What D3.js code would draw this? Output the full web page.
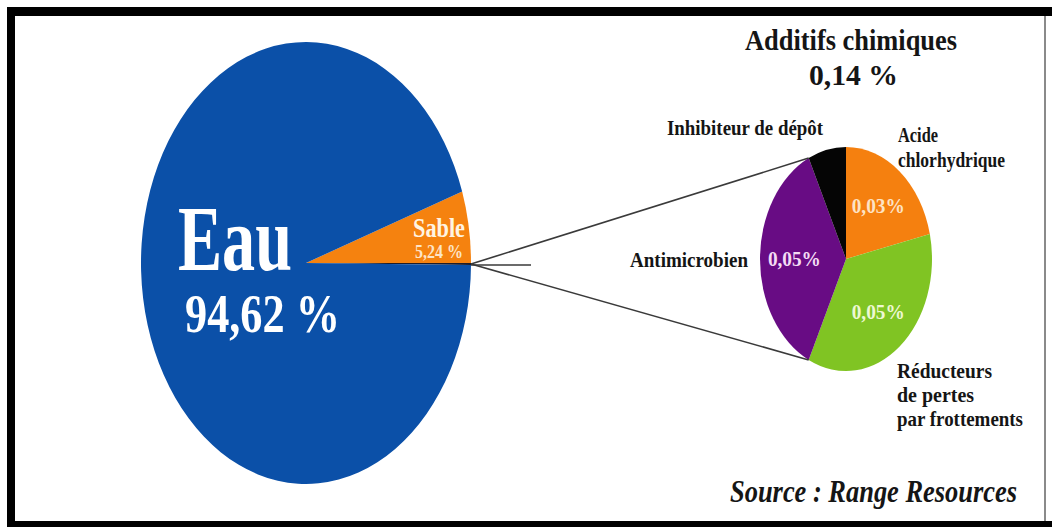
<!DOCTYPE html>
<html>
<head>
<meta charset="utf-8">
<script src="https://cdn.jsdelivr.net/npm/d3@7"></script>
<style>
  html, body { margin: 0; padding: 0; background: #fff; }
  svg { display: block; }
  text { font-family: "Liberation Serif", "Times New Roman", serif; font-weight: bold; }
</style>
</head>
<body>
<svg id="chart" width="1052" height="527"></svg>
<script>
// Composition of a fracturing fluid (% of volume)
const mainLabels = ["Sable", "Additifs chimiques", "Eau"];
const mainValues = [5.24, 0.14, 94.62];
const mainColors = ["#f5820f", "#1c1c2a", "#0b50a8"];

// Breakdown of the chemical additives, clockwise from 12 o'clock
const addLabels = ["Acide chlorhydrique", "Réducteurs de pertes par frottements", "Antimicrobien", "Inhibiteur de dépôt"];
const addValues = [0.03, 0.05, 0.05, 0.01];
const addValueText = ["0,03%", "0,05%", "0,05%", null];
const addColors = ["#f5800f", "#80c423", "#680c84", "#050505"];
const addTextColors = ["#fde3c4", "#eef8d2", "#f4dcf4", "#fff"];

const svg = d3.select("#chart");
const R = 100;
const arc = d3.arc().innerRadius(0).outerRadius(R);
const labelArc = d3.arc().innerRadius(R * 0.6).outerRadius(R * 0.6);

// frame
svg.append("rect").attr("x", 0).attr("y", 0).attr("width", 1052).attr("height", 527).attr("fill", "#fff");
svg.append("rect").attr("x", 7).attr("y", 7).attr("width", 1045).attr("height", 9).attr("fill", "#000");
svg.append("rect").attr("x", 7).attr("y", 7).attr("width", 8).attr("height", 520).attr("fill", "#000");
svg.append("rect").attr("x", 7).attr("y", 521).attr("width", 1045).attr("height", 6).attr("fill", "#000");
svg.append("rect").attr("x", 1044).attr("y", 16).attr("width", 2).attr("height", 505).attr("fill", "#8a8a8a");

// main pie, drawn as an ellipse
const big = { cx: 306, cy: 263, rx: 165, ry: 221 };
const mainTotal = d3.sum(mainValues);
const mainStart = Math.PI / 2 - 2 * Math.PI * mainValues[0] / mainTotal;
const mainPie = d3.pie().sort(null).startAngle(mainStart).endAngle(mainStart + 2 * Math.PI);
const mainArcs = mainPie(mainValues);

svg.append("g")
  .attr("transform", `translate(${big.cx},${big.cy}) scale(${big.rx / R},${big.ry / R})`)
  .selectAll("path").data(mainArcs).join("path")
  .attr("d", arc)
  .attr("fill", (d, i) => mainColors[i]);

// additives pie
const small = { cx: 846, cy: 259, rx: 86, ry: 112 };
const addPie = d3.pie().sort(null);
const addArcs = addPie(addValues);

svg.append("g")
  .attr("transform", `translate(${small.cx},${small.cy}) scale(${small.rx / R},${small.ry / R})`)
  .selectAll("path").data(addArcs).join("path")
  .attr("d", arc)
  .attr("fill", (d, i) => addColors[i]);

function onEllipse(e, a) {
  return [e.cx + e.rx * Math.sin(a), e.cy - e.ry * Math.cos(a)];
}

// connector lines from the additives slice to the breakdown pie
const addSlice = mainArcs[1];
const from = onEllipse(big, (addSlice.startAngle + addSlice.endAngle) / 2);
const purple = addArcs[2];
const toTop = onEllipse(small, purple.endAngle);
const toBottom = onEllipse(small, purple.startAngle);
const connectors = svg.append("g").attr("stroke", "#3a3a3a").attr("stroke-width", 1.6).attr("fill", "none");
connectors.append("line").attr("x1", from[0]).attr("y1", from[1]).attr("x2", toTop[0]).attr("y2", toTop[1]);
connectors.append("line").attr("x1", from[0]).attr("y1", from[1]).attr("x2", toBottom[0]).attr("y2", toBottom[1]);
connectors.append("line").attr("x1", from[0]).attr("y1", from[1] + 1).attr("x2", from[0] + 60).attr("y2", from[1] + 1);

// condensed serif text helper
function label(x, y, str, size, width, fill, opts = {}) {
  const t = svg.append("text")
    .attr("x", x).attr("y", y)
    .attr("font-size", size)
    .attr("fill", fill)
    .attr("textLength", width)
    .attr("lengthAdjust", "spacingAndGlyphs")
    .text(str);
  if (opts.italic) t.attr("font-style", "italic");
  if (opts.anchor) t.attr("text-anchor", opts.anchor);
  return t;
}

// main pie labels
label(178, 270, mainLabels[2], 94, 114, "#fff");
label(185, 332, mainValues[2].toFixed(2).replace(".", ",") + " %", 54, 155, "#fff");
label(413, 237, mainLabels[0], 27, 52, "#fff4e2");
label(415, 258, mainValues[0].toFixed(2).replace(".", ",") + " %", 19, 48, "#fde4c6");

// additives title
const addTotal = d3.sum(addValues);
label(745, 50, "Additifs chimiques", 30, 212, "#151515");
label(809, 85, addTotal.toFixed(2).replace(".", ",") + " %", 29, 89, "#151515");

// value labels inside the breakdown pie
addArcs.forEach((d, i) => {
  if (!addValueText[i]) return;
  const c = labelArc.centroid(d);
  const x = small.cx + c[0] * small.rx / R;
  const y = small.cy + c[1] * small.ry / R;
  label(x, y + 7, addValueText[i], 21, 53, addTextColors[i], { anchor: "middle" });
});

// category labels around the breakdown pie
const dark = "#151515";
label(667, 135, addLabels[3], 21, 156, dark);
label(898, 142, "Acide", 21, 40, dark);
label(898, 167, "chlorhydrique", 21, 107, dark);
label(630, 267, addLabels[2], 21, 118, dark);
label(897, 378, "Réducteurs", 21, 95, dark);
label(897, 402, "de pertes", 21, 77, dark);
label(897, 426, "par frottements", 21, 126, dark);

// source
label(730, 502, "Source : Range Resources", 32, 287, "#151515", { italic: true });
</script>
</body>
</html>
